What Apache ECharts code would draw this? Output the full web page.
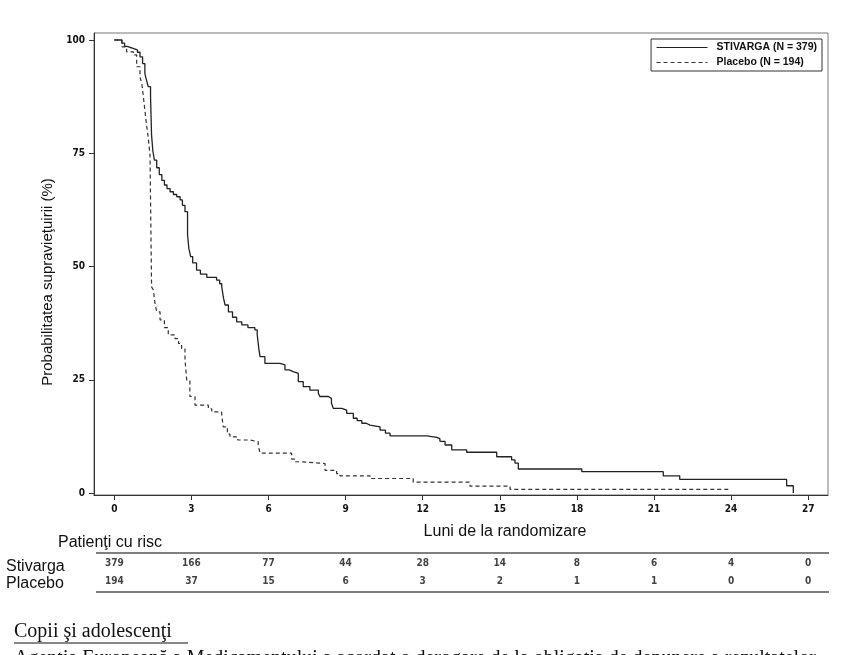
<!DOCTYPE html>
<html><head><meta charset="utf-8">
<script src="https://cdn.jsdelivr.net/npm/echarts@6/dist/echarts.min.js"></script>
<style>html,body{margin:0;padding:0;background:#fff}#c{width:849px;height:655px}</style>
</head><body><div id="c"></div>
<script>
const stivargaTimes = [0,0.29,0.4,0.5,0.7,0.9,1.0,1.1,1.19,1.26,1.32,1.41,1.45,1.5,1.56,1.65,1.75,1.85,1.95,2.05,2.17,2.3,2.43,2.56,2.65,2.75,2.85,2.9,2.97,3.05,3.2,3.35,3.6,3.98,4.1,4.18,4.25,4.31,4.44,4.6,4.76,4.96,5.2,5.47,5.56,5.62,5.67,5.86,6.45,6.64,6.8,6.96,7.16,7.35,7.61,7.94,8.0,8.33,8.45,8.52,8.85,9.04,9.3,9.45,9.63,9.8,9.95,10.34,10.55,10.73,12.16,12.55,12.67,12.87,13.13,13.71,14.88,15.46,15.59,15.72,18.19,21.36,22.0,26.16,26.42];
const stivargaSurv  = [100,99.3,98.6,98.2,97.8,97.3,96.3,94.8,92.6,91.0,89.7,87.5,79,75.5,73.5,71.8,70.3,69,68,67.2,66.5,65.9,65.4,64.7,63.5,62.1,57,54,52.2,50.8,49.2,48.3,47.6,47.0,46.2,45.5,43.0,41.5,40.0,38.8,37.8,37.1,36.5,36.0,35.0,32,30.1,28.6,28.3,27.2,26.8,26.4,24.6,23.5,22.7,22.0,21.3,20.9,19.8,18.7,18.3,17.6,16.5,16.0,15.4,15.0,14.6,13.9,13.2,12.6,12.3,12.0,11.4,10.6,9.5,9.0,8.0,7.3,6.6,5.3,4.7,3.8,3.0,1.6,0];
const placeboTimes = [0,0.3,0.48,0.74,0.87,1.0,1.07,1.13,1.19,1.26,1.32,1.39,1.45,1.52,1.58,1.65,1.78,1.95,2.1,2.36,2.5,2.62,2.75,2.82,2.94,3.14,3.66,3.79,4.18,4.24,4.4,4.5,4.8,5.28,5.6,5.67,6.9,7.03,7.22,8.2,8.65,8.78,9.95,11.63,13.84,15.4,23.9];
const placeboSurv  = [100,98.5,97.4,96.7,94.1,91.8,90.4,87.5,84.5,81,78.5,74.5,45.5,44.8,42,40.0,38.2,36.5,34.9,34.1,33,31.9,29.4,24.9,21.3,19.4,18.6,17.9,17.2,14.6,13.0,12.4,11.7,11.3,10.6,8.8,7.5,6.9,6.5,5.0,4.3,3.8,3.2,2.4,1.5,0.8,0.8];
const xTicks = [0,3,6,9,12,15,18,21,24,27];
const yTicks = [0,25,50,75,100];
const riskTimes = [0,3,6,9,12,15,18,21,24,27];
const riskStivarga = [379,166,77,44,28,14,8,6,4,0];
const riskPlacebo = [194,37,15,6,3,2,1,1,0,0];
const seriesNames = ['STIVARGA (N = 379)', 'Placebo (N = 194)'];
const rowNames = ['Stivarga', 'Placebo'];

const narrow = "'Liberation Sans Narrow','Arial Narrow','DejaVu Sans Condensed',sans-serif";
const sans = "'Liberation Sans',Arial,sans-serif";
const serif = "'Liberation Serif','Times New Roman',serif";
const zip = (a, b) => a.map((v, i) => [v, b[i]]);

const chart = echarts.init(document.getElementById('c'), null, {renderer: 'canvas'});
const riskData = [];
riskTimes.forEach((t, i) => {
  riskData.push([t, rowNames[0], riskStivarga[i]]);
  riskData.push([t, rowNames[1], riskPlacebo[i]]);
});
chart.setOption({
  animation: false,
  backgroundColor: '#fff',
  grid: [
    {left: 94, top: 33, width: 734, height: 462, show: true, borderColor: '#777', borderWidth: 1},
    {left: 94, top: 554, width: 734, height: 36}
  ],
  xAxis: [
    {type: 'value', gridIndex: 0, min: -0.79, max: 27.77,
     axisLine: {show: true, onZero: false, lineStyle: {color: '#333', width: 1}},
     axisTick: {show: true, customValues: xTicks, length: 5, lineStyle: {color: '#333'}},
     axisLabel: {customValues: xTicks, margin: 9, color: '#111', fontSize: 10, fontWeight: 'bold', fontFamily: narrow},
     splitLine: {show: false}},
    {type: 'value', gridIndex: 1, min: -0.79, max: 27.77, show: false}
  ],
  yAxis: [
    {type: 'value', gridIndex: 0, min: -0.44, max: 101.55,
     axisLine: {show: true, onZero: false, lineStyle: {color: '#333', width: 1}},
     axisTick: {show: true, customValues: yTicks, length: 5, lineStyle: {color: '#333'}},
     axisLabel: {customValues: yTicks, margin: 9, color: '#111', fontSize: 10, fontWeight: 'bold', fontFamily: narrow},
     splitLine: {show: false}},
    {type: 'category', gridIndex: 1, data: rowNames.slice().reverse(), show: false}
  ],
  legend: {
    data: seriesNames, orient: 'vertical', right: 27, top: 39,
    itemWidth: 51, itemHeight: 9, itemGap: 4, padding: [3, 5, 3, 5],
    borderColor: '#333', borderWidth: 1, backgroundColor: '#fff',
    itemStyle: {color: 'rgba(0,0,0,0)', borderWidth: 0, opacity: 0},
    lineStyle: {width: 1},
    textStyle: {fontSize: 10.5, fontWeight: 'bold', fontFamily: sans, color: '#111', padding: [0, 0, 0, 4]}
  },
  series: [
    {name: seriesNames[0], type: 'line', step: 'end', xAxisIndex: 0, yAxisIndex: 0,
     data: zip(stivargaTimes, stivargaSurv), showSymbol: false, symbol: 'none',
     lineStyle: {color: '#222', width: 1.3, type: 'solid'}, itemStyle: {color: '#222'}},
    {name: seriesNames[1], type: 'line', step: 'end', xAxisIndex: 0, yAxisIndex: 0,
     data: zip(placeboTimes, placeboSurv), showSymbol: false, symbol: 'none',
     lineStyle: {color: '#333', width: 1.2, type: [4, 3]}, itemStyle: {color: '#333'}},
    {type: 'scatter', xAxisIndex: 1, yAxisIndex: 1, data: riskData, symbolSize: 0,
     label: {show: true, position: 'inside', formatter: p => String(p.value[2]),
             fontSize: 10, fontWeight: 'bold', fontFamily: narrow, color: '#111'}}
  ],
  graphic: [
    {type: 'text', x: 48, y: 282, rotation: Math.PI / 2,
     style: {text: 'Probabilitatea supravieţuirii (%)', font: '15px ' + sans, fill: '#111', textAlign: 'center', textVerticalAlign: 'middle'}},
    {type: 'text', x: 505, y: 532,
     style: {text: 'Luni de la randomizare', font: '16px ' + sans, fill: '#111', textAlign: 'center', textVerticalAlign: 'middle'}},
    {type: 'text', x: 58, y: 543,
     style: {text: 'Patienţi cu risc', font: '16px ' + sans, fill: '#111', textAlign: 'left', textVerticalAlign: 'middle'}},
    {type: 'text', x: 6, y: 567,
     style: {text: 'Stivarga', font: '16px ' + sans, fill: '#111', textAlign: 'left', textVerticalAlign: 'middle'}},
    {type: 'text', x: 6, y: 584,
     style: {text: 'Placebo', font: '16px ' + sans, fill: '#111', textAlign: 'left', textVerticalAlign: 'middle'}},
    {type: 'line', shape: {x1: 96, y1: 553, x2: 829, y2: 553}, style: {stroke: '#555', lineWidth: 1.5}},
    {type: 'line', shape: {x1: 96, y1: 592, x2: 829, y2: 592}, style: {stroke: '#555', lineWidth: 1.5}},
    {type: 'text', x: 14, y: 632,
     style: {text: 'Copii şi adolescenţi', font: '20px ' + serif, fill: '#111', textAlign: 'left', textVerticalAlign: 'middle'}},
    {type: 'line', shape: {x1: 14, y1: 643, x2: 188, y2: 643}, style: {stroke: '#111', lineWidth: 1}},
    {type: 'text', x: 14, y: 649,
     style: {text: 'Agenţia Europeană a Medicamentului a acordat o derogare de la obligaţia de depunere a rezultatelor', font: '20px ' + serif, fill: '#111', textAlign: 'left', textVerticalAlign: 'top'}}
  ]
});
</script></body></html>
